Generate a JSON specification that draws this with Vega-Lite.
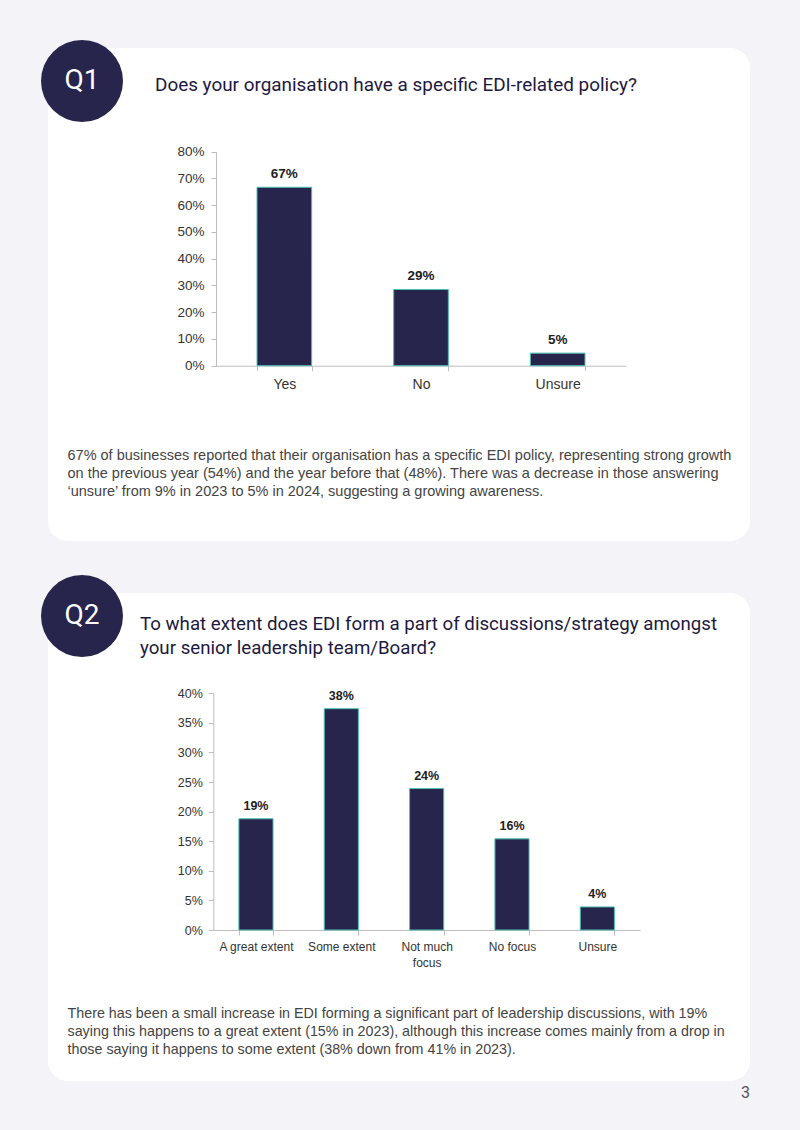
{
  "$schema": "https://vega.github.io/schema/vega-lite/v6.json",
  "background": "#f4f3f8",
  "padding": {"left": 41, "top": 40, "right": 50, "bottom": 29},
  "title": {"text": "3", "orient": "bottom", "anchor": "end", "frame": "group", "offset": 4, "fontSize": 16, "font": "Roboto", "fontWeight": "normal", "color": "#555555"},
  "spacing": 34,
  "resolve": {"scale": {"x": "independent", "y": "independent", "color": "independent"}, "legend": {"color": "independent"}},
  "vconcat": [
    {
      "width": 702,
      "height": 493,
      "data": {"values": [
        {"q": "Q1", "answer": "Yes", "share": 0.667, "label": "67%"},
        {"q": "Q1", "answer": "No", "share": 0.285, "label": "29%"},
        {"q": "Q1", "answer": "Unsure", "share": 0.047, "label": "5%"}
      ]},
      "title": {"text": "Does your organisation have a specific EDI-related policy?", "anchor": "start", "frame": "group", "dx": 107, "offset": -55, "baseline": "top", "font": "Roboto", "fontSize": 18.9, "fontWeight": "normal", "color": "#1d1940"},
      "layer": [
        {
          "mark": {"type": "bar", "stroke": "#4cc1b4", "strokeWidth": 1},
          "encoding": {
            "x": {"field": "answer", "type": "nominal", "sort": null,
              "scale": {"range": [168, 578], "paddingInner": 0.6, "paddingOuter": 0.3},
              "axis": {"offset": -175.3, "tickBand": "extent", "domainColor": "#bdbdbd", "tickColor": "#bdbdbd", "tickSize": 5, "labelPadding": 7, "labelAngle": 0, "labelFont": "Liberation Sans", "labelFontSize": 14, "labelColor": "#333333",
                "title": ["67% of businesses reported that their organisation has a specific EDI policy, representing strong growth", "on the previous year (54%) and the year before that (48%). There was a decrease in those answering", "‘unsure’ from 9% in 2023 to 5% in 2024, suggesting a growing awareness."],
                "titleX": 19, "titleY": 83, "titleAlign": "left", "titleAnchor": "start", "titleBaseline": "top", "titleFont": "Liberation Sans", "titleFontSize": 14.5, "titleFontWeight": "normal", "titleColor": "#444444", "titleLineHeight": 18}},
            "y": {"field": "share", "type": "quantitative",
              "scale": {"domain": [0, 0.8], "range": [317.7, 103.7], "nice": false},
              "axis": {"values": [0, 0.1, 0.2, 0.3, 0.4, 0.5, 0.6, 0.7, 0.8], "format": ".0%", "offset": -168, "grid": false, "domainColor": "#bdbdbd", "tickColor": "#bdbdbd", "tickSize": 5, "labelPadding": 7, "labelFont": "Liberation Sans", "labelFontSize": 13.5, "labelColor": "#333333", "title": null}},
            "color": {"field": "q", "type": "nominal", "scale": {"range": ["#28254c"]},
              "legend": {"orient": "none", "legendX": -7, "legendY": -8, "title": null, "symbolType": "circle", "symbolSize": 6724, "symbolStrokeWidth": 0, "symbolOpacity": 1, "labelColor": "white", "labelFont": "Roboto", "labelFontSize": 28, "labelAlign": "center", "labelOffset": -41, "padding": 0}}
          }
        },
        {
          "mark": {"type": "text", "dy": -13, "baseline": "middle", "font": "Liberation Sans", "fontSize": 13.5, "fontWeight": "bold", "color": "#222222"},
          "encoding": {
            "x": {"field": "answer", "type": "nominal", "sort": null},
            "y": {"field": "share", "type": "quantitative"},
            "text": {"field": "label"}
          }
        }
      ]
    },
    {
      "width": 702,
      "height": 488,
      "data": {"values": [
        {"q": "Q2", "answer": "A great extent", "share": 0.188, "label": "19%"},
        {"q": "Q2", "answer": "Some extent", "share": 0.374, "label": "38%"},
        {"q": "Q2", "answer": "Not much focus", "share": 0.239, "label": "24%"},
        {"q": "Q2", "answer": "No focus", "share": 0.154, "label": "16%"},
        {"q": "Q2", "answer": "Unsure", "share": 0.039, "label": "4%"}
      ]},
      "title": {"text": ["To what extent does EDI form a part of discussions/strategy amongst", "your senior leadership team/Board?"], "anchor": "start", "frame": "group", "dx": 92, "offset": -83, "baseline": "top", "lineHeight": 24, "font": "Roboto", "fontSize": 18.7, "fontWeight": "normal", "color": "#1d1940"},
      "layer": [
        {
          "mark": {"type": "bar", "stroke": "#4cc1b4", "strokeWidth": 1},
          "encoding": {
            "x": {"field": "answer", "type": "nominal", "sort": null,
              "scale": {"range": [165.3, 592], "paddingInner": 0.6, "paddingOuter": 0.3},
              "axis": {"offset": -151, "tickBand": "extent", "domainColor": "#bdbdbd", "tickColor": "#bdbdbd", "tickSize": 5, "labelPadding": 6, "labelAngle": 0, "labelFont": "Liberation Sans", "labelFontSize": 12, "labelColor": "#333333", "labelLineHeight": 16,
                "labelExpr": "datum.label == 'Not much focus' ? ['Not much', 'focus'] : datum.label",
                "title": ["There has been a small increase in EDI forming a significant part of leadership discussions, with 19%", "saying this happens to a great extent (15% in 2023), although this increase comes mainly from a drop in", "those saying it happens to some extent (38% down from 41% in 2023)."],
                "titleX": 19, "titleY": 76, "titleAlign": "left", "titleAnchor": "start", "titleBaseline": "top", "titleFont": "Liberation Sans", "titleFontSize": 14.3, "titleFontWeight": "normal", "titleColor": "#444444", "titleLineHeight": 18}},
            "y": {"field": "share", "type": "quantitative",
              "scale": {"domain": [0, 0.4], "range": [337, 100.3], "nice": false},
              "axis": {"values": [0, 0.05, 0.1, 0.15, 0.2, 0.25, 0.3, 0.35, 0.4], "format": ".0%", "offset": -165.3, "grid": false, "domainColor": "#bdbdbd", "tickColor": "#bdbdbd", "tickSize": 5, "labelPadding": 6, "labelFont": "Liberation Sans", "labelFontSize": 12.5, "labelColor": "#333333", "title": null}},
            "color": {"field": "q", "type": "nominal", "scale": {"range": ["#28254c"]},
              "legend": {"orient": "none", "legendX": -7, "legendY": -18, "title": null, "symbolType": "circle", "symbolSize": 6724, "symbolStrokeWidth": 0, "symbolOpacity": 1, "labelColor": "white", "labelFont": "Roboto", "labelFontSize": 28, "labelAlign": "center", "labelOffset": -41, "padding": 0}}
          }
        },
        {
          "mark": {"type": "text", "dy": -13, "baseline": "middle", "font": "Liberation Sans", "fontSize": 12.5, "fontWeight": "bold", "color": "#222222"},
          "encoding": {
            "x": {"field": "answer", "type": "nominal", "sort": null},
            "y": {"field": "share", "type": "quantitative"},
            "text": {"field": "label"}
          }
        }
      ]
    }
  ],
  "config": {
    "view": {"fill": "white", "stroke": null, "cornerRadius": 20}
  }
}
